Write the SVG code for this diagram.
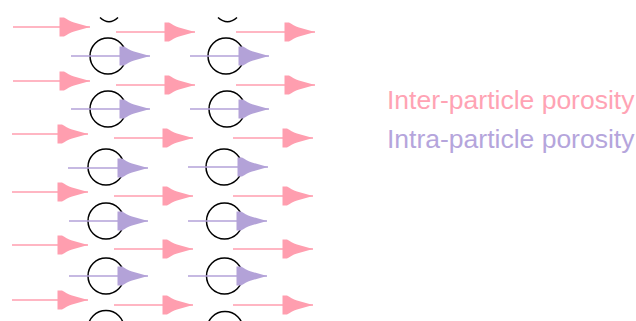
<svg xmlns="http://www.w3.org/2000/svg" width="636" height="321" viewBox="0 0 636 321">
<style>
.pk{stroke:#FF9EAF;stroke-width:1.6;fill:none;marker-end:url(#ap)}
.pu{stroke:#B3A2D8;stroke-width:1.6;fill:none;marker-end:url(#au)}
.c{fill:none;stroke:#000;stroke-width:1.5}
.t{font-family:"Liberation Sans",Arial,sans-serif;font-size:26.5px}
</style>
<defs>
<marker id="ap" markerUnits="userSpaceOnUse" markerWidth="34" markerHeight="22" refX="31" refY="9.5" orient="auto" overflow="visible">
<path d="M31,9.5 L15,5 C11,4 8,1.5 5,0 L0.5,0 L0.5,19 L5,19 C8,17.5 11,15 15,14 Z" fill="#FF9EAF"/>
</marker>
<marker id="au" markerUnits="userSpaceOnUse" markerWidth="34" markerHeight="22" refX="31" refY="9.5" orient="auto" overflow="visible">
<path d="M31,9.5 L15,5 C11,4 8,1.5 5,0 L0.5,0 L0.5,19 L5,19 C8,17.5 11,15 15,14 Z" fill="#B3A2D8"/>
</marker>
</defs>
<g id="particles">
<path class="c" d="M100,17.5 Q109,26 118,17.5"/>
<path class="c" d="M218,17.5 Q227.5,26 237,17.5"/>
<circle class="c" cx="108" cy="56" r="18"/>
<circle class="c" cx="226" cy="56" r="18"/>
<circle class="c" cx="108" cy="109" r="18"/>
<circle class="c" cx="227" cy="109" r="18"/>
<circle class="c" cx="106" cy="167" r="18"/>
<circle class="c" cx="224" cy="167" r="18"/>
<circle class="c" cx="106" cy="221" r="18"/>
<circle class="c" cx="224.5" cy="221" r="18"/>
<circle class="c" cx="106" cy="276" r="18"/>
<circle class="c" cx="224.5" cy="276" r="18"/>
<circle class="c" cx="106" cy="328.5" r="18"/>
<circle class="c" cx="225" cy="329.5" r="18"/>
</g>
<g id="connectors">
<line class="pk" x1="13" y1="27" x2="90" y2="27"/>
<line class="pk" x1="13" y1="81" x2="90" y2="81"/>
<line class="pk" x1="12" y1="134" x2="88" y2="134"/>
<line class="pk" x1="12" y1="192" x2="88" y2="192"/>
<line class="pk" x1="12" y1="245" x2="88" y2="245"/>
<line class="pk" x1="12" y1="300" x2="88" y2="300"/>
<line class="pk" x1="116" y1="32" x2="195" y2="32"/>
<line class="pk" x1="116" y1="85" x2="195" y2="85"/>
<line class="pk" x1="114" y1="138" x2="193" y2="138"/>
<line class="pk" x1="114" y1="196" x2="193" y2="196"/>
<line class="pk" x1="114" y1="249" x2="193" y2="249"/>
<line class="pk" x1="114" y1="305" x2="193" y2="305"/>
<line class="pk" x1="236" y1="32" x2="315" y2="32"/>
<line class="pk" x1="236" y1="85" x2="315" y2="85"/>
<line class="pk" x1="233" y1="138" x2="313" y2="138"/>
<line class="pk" x1="233" y1="196" x2="313" y2="196"/>
<line class="pk" x1="233" y1="249" x2="313" y2="249"/>
<line class="pk" x1="233" y1="305" x2="313" y2="305"/>
<line class="pu" x1="71" y1="56" x2="150" y2="56"/>
<line class="pu" x1="71" y1="109" x2="150" y2="109"/>
<line class="pu" x1="68" y1="168" x2="148" y2="168"/>
<line class="pu" x1="69" y1="221" x2="148" y2="221"/>
<line class="pu" x1="69" y1="276" x2="148" y2="276"/>
<line class="pu" x1="190" y1="56" x2="269" y2="56"/>
<line class="pu" x1="190" y1="109" x2="269" y2="109"/>
<line class="pu" x1="188" y1="167" x2="268" y2="167"/>
<line class="pu" x1="188" y1="221" x2="267" y2="221"/>
<line class="pu" x1="188" y1="276" x2="267" y2="276"/>
</g>
<g id="legend">
<text class="t" x="387" y="109" fill="#FFA3B4">Inter-particle porosity</text>
<text class="t" x="387" y="148" fill="#B5A5DC">Intra-particle porosity</text>
</g>
</svg>
